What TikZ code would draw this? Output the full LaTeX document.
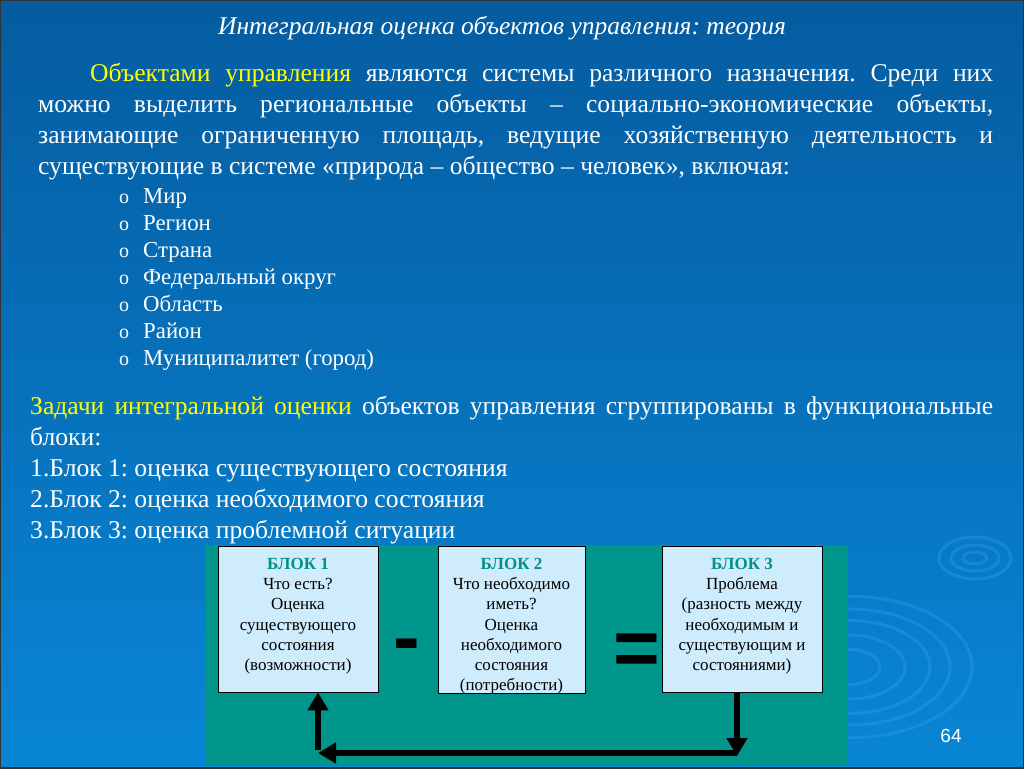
\documentclass[tikz,border=0pt]{standalone}
\usepackage{fontspec}
\setmainfont{Liberation Serif}
\newfontfamily\pagefont{Liberation Sans}
\usetikzlibrary{positioning,arrows.meta}
\definecolor{slidetop}{RGB}{5,92,160}
\definecolor{slidebottom}{RGB}{8,134,214}
\definecolor{panelteal}{RGB}{0,150,140}
\definecolor{boxfill}{RGB}{206,236,252}
\definecolor{blocktitle}{RGB}{0,145,135}
\definecolor{keyword}{RGB}{255,255,0}
\definecolor{ripplecol}{RGB}{60,170,255}
\tikzset{
  ripple/.style={draw=ripplecol,opacity=0.28,line width=3pt},
  blockbox/.style={draw=black,fill=boxfill,anchor=north,inner sep=0pt,align=center,
    font=\fontsize{17}{20.2}\selectfont},
  backarrow/.style={line width=6pt,-{Triangle[length=18pt,width=20pt]}},
  signnode/.style={font=\pagefont\bfseries\fontsize{80}{80}\selectfont,inner sep=0pt}
}
\newcommand{\blocktext}[3]{\parbox[c][#2pt][t]{#1pt}{\centering\vspace{12pt}#3}}
\begin{document}
\frenchspacing
\begin{tikzpicture}[x=1pt,y=1pt]
  \useasboundingbox (0,0) rectangle (1024,-768);
  % background of the slide
  \shade[top color=slidetop,bottom color=slidebottom] (0,0) rectangle (1024,-768);
  \draw[ripple] (975,-558) ellipse (12 and 6);
  \draw[ripple] (975,-558) ellipse (24 and 13);
  \draw[ripple] (975,-558) ellipse (36 and 21);
  \foreach \r in {30,55,80,100,122}
    \draw[ripple] (850,-667) ellipse ({\r} and {\r*0.58});
  \draw[black!80,line width=2pt] (0,0) rectangle (1024,-768);
  % title and text
  \node[font=\frenchspacing\itshape\fontsize{25.5}{30}\selectfont,text=white] (title) at (502,-28)
    {Интегральная оценка объектов управления: теория};
  \node[anchor=north west,text width=955pt,align=justify,text=white,inner sep=0pt,
    font=\frenchspacing\fontsize{25.6}{31}\selectfont] (objects) at (38,-63)
    {\hspace*{52pt}\textcolor{keyword}{Объектами управления} являются системы различного
     назначения. Среди них\linebreak можно выделить региональные объекты -- социально-экономические
     объекты,\linebreak занимающие ограниченную площадь, ведущие хозяйственную деятельность
     и\linebreak существующие в системе «природа -- общество -- человек», включая:};
  \foreach \item [count=\i] in {Мир,Регион,Страна,Федеральный округ,Область,Район,Муниципалитет (город)}
  {
    \node[anchor=base west,inner sep=0pt,text=white,font=\fontsize{20}{20}\selectfont] (bullet\i) at (119,-203-27*\i+27) {o};
    \node[anchor=base west,inner sep=0pt,text=white,font=\fontsize{22.8}{27}\selectfont] (level\i) at (143,-203-27*\i+27) {\item};
  }
  \node[anchor=north west,text width=963pt,align=justify,text=white,inner sep=0pt,
    font=\frenchspacing\fontsize{25.6}{31}\selectfont] (tasks) at (30,-396)
    {\textcolor{keyword}{Задачи интегральной оценки} объектов управления сгруппированы в
     функциональные блоки:\par
     \raggedright 1.Блок 1: оценка существующего состояния\par
     2.Блок 2: оценка необходимого состояния\par
     3.Блок 3: оценка проблемной ситуации\par};
  % the three blocks
  \fill[panelteal] (205,-545) rectangle (848,-766);
  \node[blockbox] (b1) at (298,-546) {\blocktext{160}{146}{\textcolor{blocktitle}{\textbf{БЛОК 1}}\\
    Что есть?\\ Оценка\\ существующего\\ состояния\\ (возможности)}};
  \node[blockbox] (b2) at (511.5,-546) {\blocktext{147}{147}{\textcolor{blocktitle}{\textbf{БЛОК 2}}\\
    Что необходимо\\ иметь?\\ Оценка\\ необходимого\\ состояния\\ (потребности)}};
  \node[blockbox] (b3) at (742,-546) {\blocktext{160}{146}{\textcolor{blocktitle}{\textbf{БЛОК 3}}\\
    Проблема\\ (разность между\\ необходимым и\\ существующим и\\ состояниями)}};
  \node[signnode] (minus) at (407,-652) {-};
  \node[signnode] (equals) at (637,-655) {=};
  \coordinate (turnright) at (737,-753);
  \coordinate (turnleft) at (318,-753);
  \draw[backarrow] ([xshift=-5pt]b3.south) -- (turnright |- 0,-756);
  \draw[line width=6pt] (turnright) -- (330,-753);
  \draw[backarrow] (turnright) -- (turnleft);
  \draw[backarrow] (turnleft |- 0,-750) -- ([xshift=20pt]b1.south);
  \node[font=\pagefont\fontsize{19}{19}\selectfont,text=white] (page) at (951,-736) {64};
\end{tikzpicture}
\end{document}
